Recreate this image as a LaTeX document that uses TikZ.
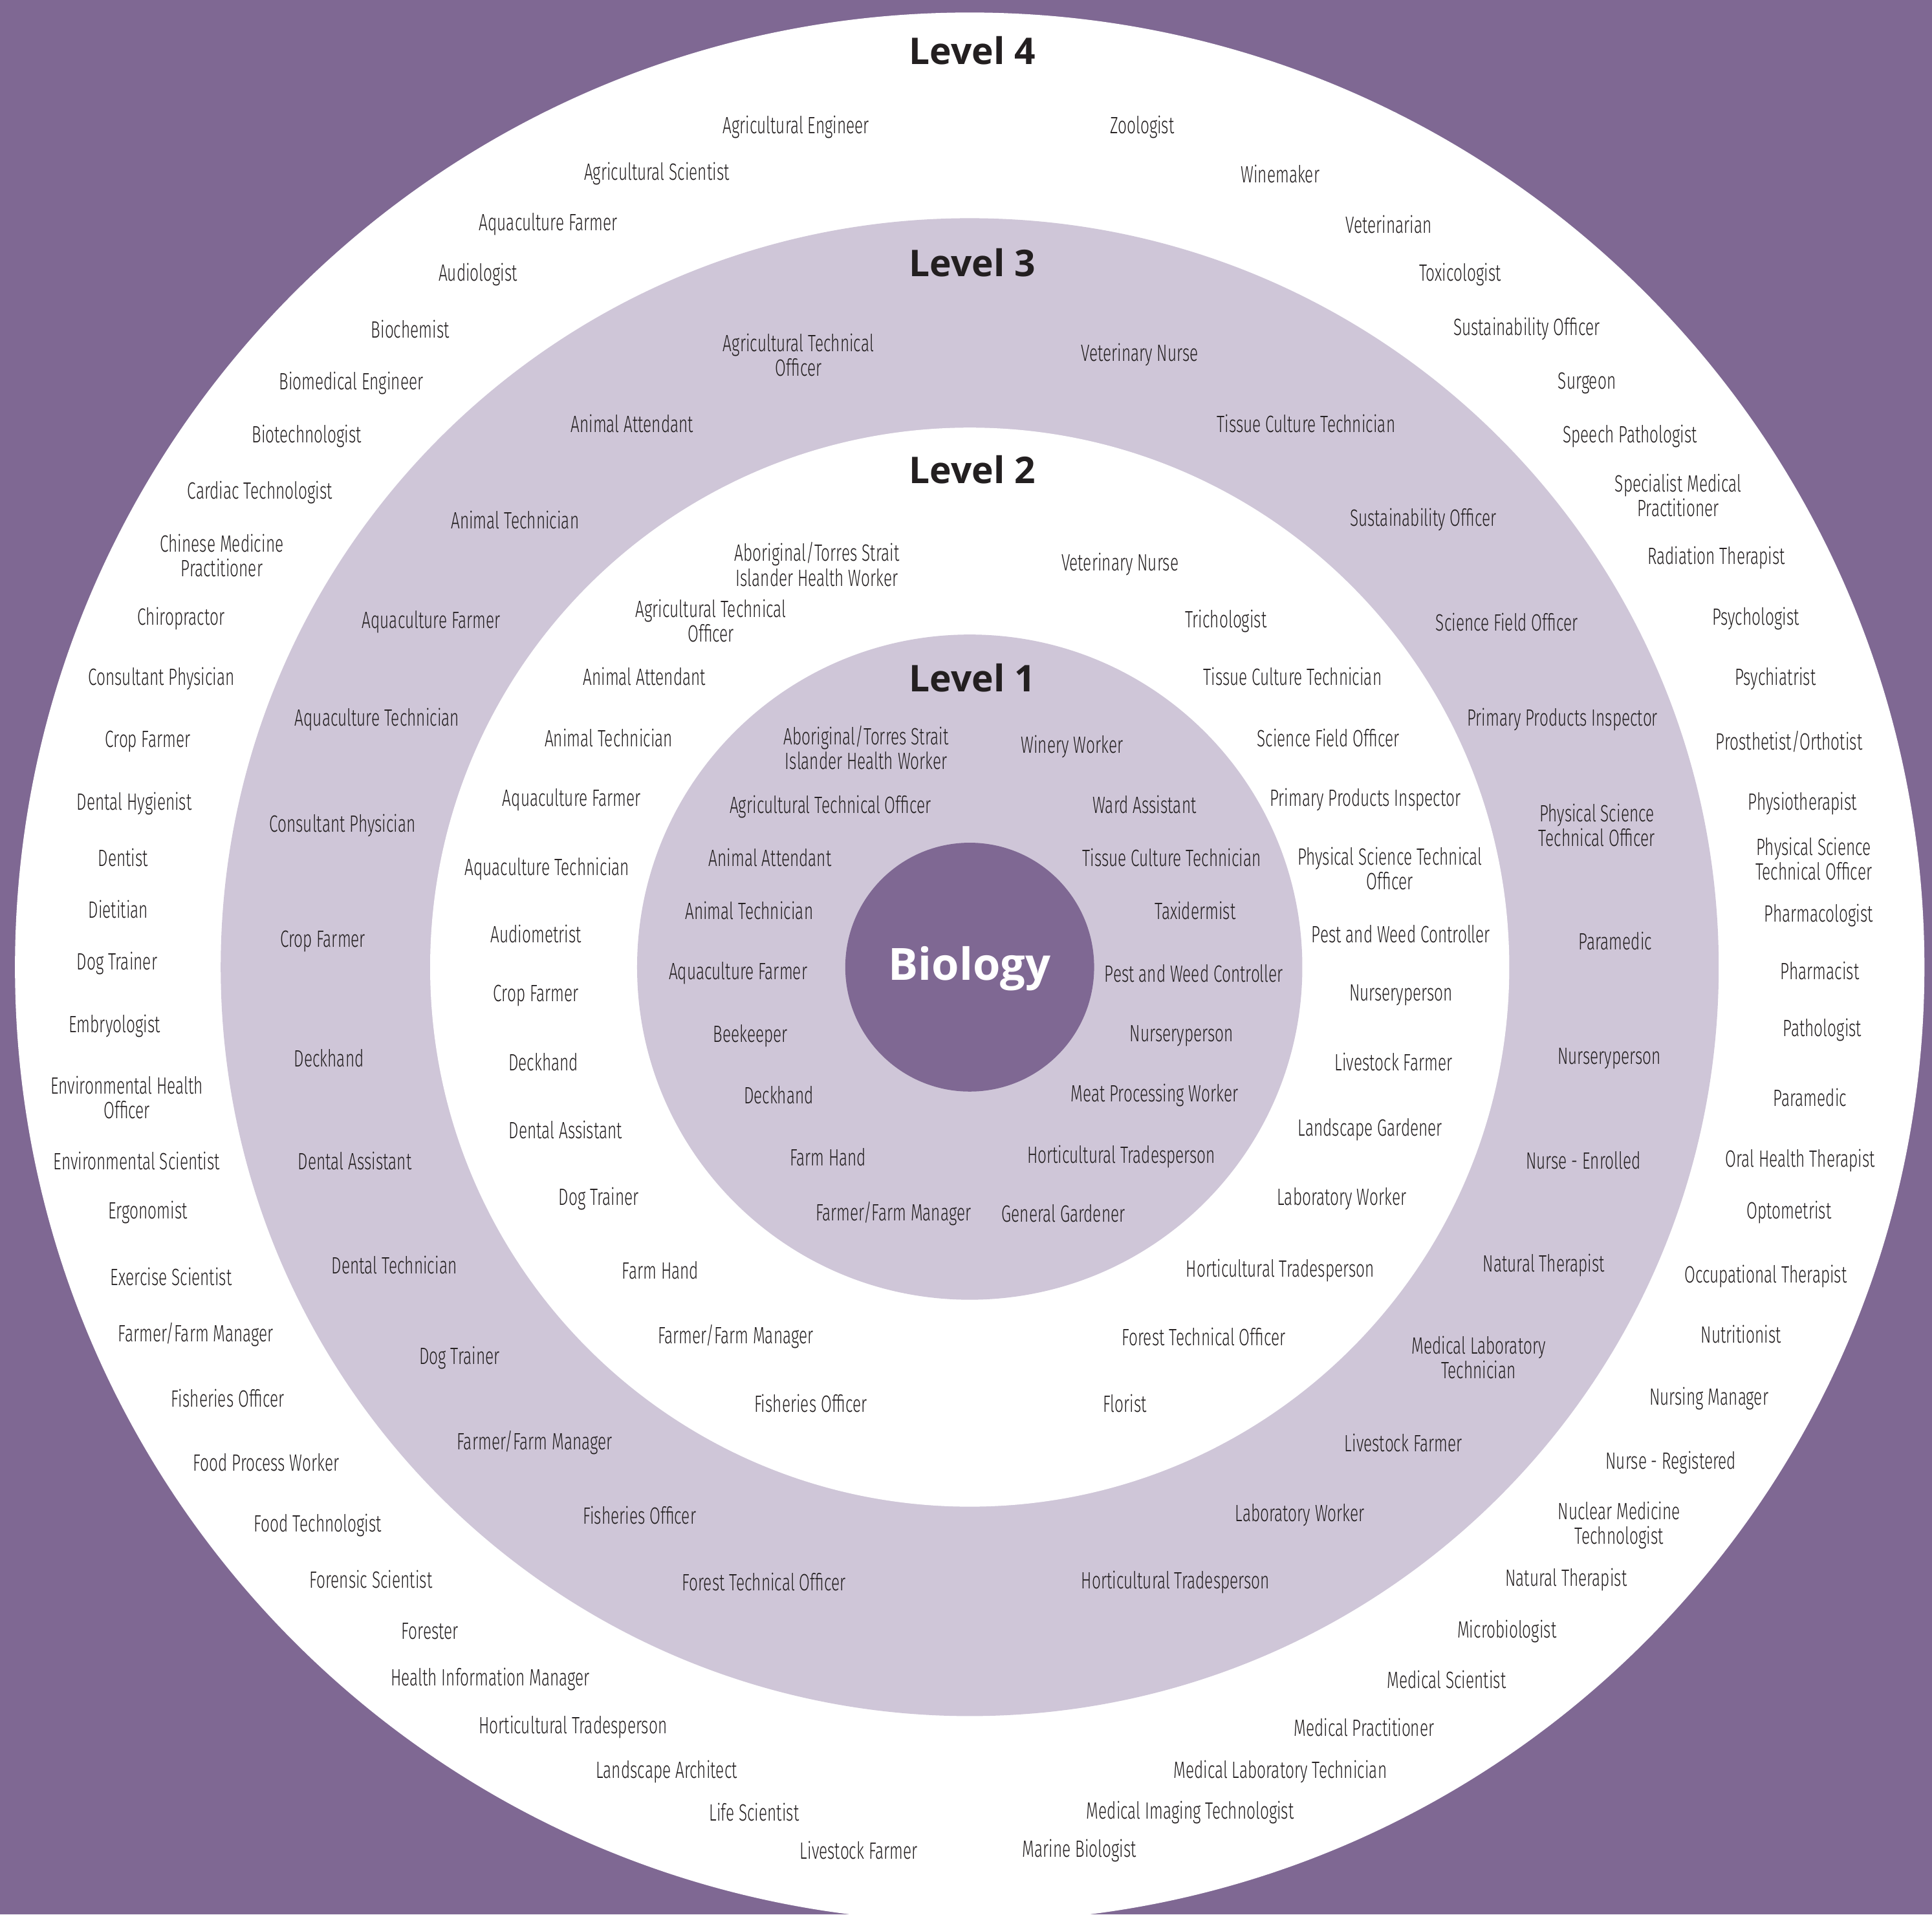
\documentclass[tikz,border=0pt]{standalone}
\usepackage{fontspec}
\setmainfont{Fira Sans}[UprightFont=* Light,FakeStretch=0.67]
\newfontfamily\headfont{Open Sans}
\usepackage{tikz}
\usetikzlibrary{positioning}
\usepackage{xcolor}
\definecolor{darkpurple}{HTML}{7F6893}
\definecolor{lightpurple}{HTML}{CFC6D8}
\definecolor{inktext}{HTML}{231F20}

\begin{document}
\begin{tikzpicture}[x=0.02cm,y=-0.02cm]
  \tikzstyle{job}=[align=center,inner sep=0pt,text=inktext,yshift=-0.04cm,
                   font=\fontsize{10.9}{11.4}\selectfont]
  \tikzstyle{level}=[inner sep=0pt,text=inktext,
                     font=\headfont\bfseries\fontsize{17}{20}\selectfont]
  \tikzstyle{subject}=[inner sep=0pt,text=white,
                       font=\headfont\bfseries\fontsize{20.5}{24}\selectfont]

  \fill[darkpurple] (0,0) rectangle (1568,1554);
  \useasboundingbox (0,0) rectangle (1568,1554);
  \clip (0,0) rectangle (1568,1554);
  \coordinate (O) at (787,785);
  \fill[white]       (O) circle (15.5cm);
  \fill[lightpurple] (O) circle (12.16cm);
  \fill[white]       (O) circle (8.76cm);
  \fill[lightpurple] (O) circle (5.4cm);
  \fill[darkpurple]  (O) circle (2.02cm);

  \node[subject] (bio) at (787,786) {Biology};

  % Level 4
  \node[level] (t4) at (789,41) {Level 4};
  \node[job] (d1)  at (646,101)  {Agricultural Engineer};
  \node[job] (d2)  at (533,139)  {Agricultural Scientist};
  \node[job] (d3)  at (445,180)  {Aquaculture Farmer};
  \node[job] (d4)  at (388,221)  {Audiologist};
  \node[job] (d5)  at (333,265)  {Biochemist};
  \node[job] (d6)  at (285,309)  {Biomedical Engineer};
  \node[job] (d7)  at (249,352)  {Biotechnologist};
  \node[job] (d8)  at (211,398)  {Cardiac Technologist};
  \node[job] (d9)  at (180,449)  {Chinese Medicine\\Practitioner};
  \node[job] (d10) at (147,500)  {Chiropractor};
  \node[job] (d11) at (131,549)  {Consultant Physician};
  \node[job] (d12) at (120,600)  {Crop Farmer};
  \node[job] (d13) at (109,650)  {Dental Hygienist};
  \node[job] (d14) at (100,694)  {Dentist};
  \node[job] (d15) at (96,736)   {Dietitian};
  \node[job] (d16) at (95,780)   {Dog Trainer};
  \node[job] (d17) at (93,831)   {Embryologist};
  \node[job] (d18) at (103,889)  {Environmental Health\\Officer};
  \node[job] (d19) at (111,940)  {Environmental Scientist};
  \node[job] (d20) at (120,982)  {Ergonomist};
  \node[job] (d21) at (139,1034) {Exercise Scientist};
  \node[job] (d22) at (159,1081) {Farmer/Farm Manager};
  \node[job] (d23) at (185,1133) {Fisheries Officer};
  \node[job] (d24) at (216,1185) {Food Process Worker};
  \node[job] (d25) at (258,1236) {Food Technologist};
  \node[job] (d26) at (301,1280) {Forensic Scientist};
  \node[job] (d27) at (349,1322) {Forester};
  \node[job] (d28) at (398,1361) {Health Information Manager};
  \node[job] (d29) at (465,1400) {Horticultural Tradesperson};
  \node[job] (d30) at (541,1436) {Landscape Architect};
  \node[job] (d31) at (612,1469) {Life Scientist};
  \node[job] (d32) at (697,1500) {Livestock Farmer};
  \node[job] (d33) at (927,101)  {Zoologist};
  \node[job] (d34) at (1039,139) {Winemaker};
  \node[job] (d35) at (1127,180) {Veterinarian};
  \node[job] (d36) at (1185,221) {Toxicologist};
  \node[job] (d37) at (1239,265) {Sustainability Officer};
  \node[job] (d38) at (1288,309) {Surgeon};
  \node[job] (d39) at (1323,352) {Speech Pathologist};
  \node[job] (d40) at (1362,400) {Specialist Medical\\Practitioner};
  \node[job] (d41) at (1393,451) {Radiation Therapist};
  \node[job] (d42) at (1425,500) {Psychologist};
  \node[job] (d43) at (1441,549) {Psychiatrist};
  \node[job] (d44) at (1452,600) {Prosthetist/Orthotist};
  \node[job] (d45) at (1463,650) {Physiotherapist};
  \node[job] (d46) at (1472,695) {Physical Science\\Technical Officer};
  \node[job] (d47) at (1476,741) {Pharmacologist};
  \node[job] (d48) at (1477,786) {Pharmacist};
  \node[job] (d49) at (1479,834) {Pathologist};
  \node[job] (d50) at (1469,889) {Paramedic};
  \node[job] (d51) at (1461,940) {Oral Health Therapist};
  \node[job] (d52) at (1452,982) {Optometrist};
  \node[job] (d53) at (1433,1034) {Occupational Therapist};
  \node[job] (d54) at (1413,1081) {Nutritionist};
  \node[job] (d55) at (1387,1133) {Nursing Manager};
  \node[job] (d56) at (1356,1185) {Nurse - Registered};
  \node[job] (d57) at (1314,1236) {Nuclear Medicine\\Technologist};
  \node[job] (d58) at (1271,1280) {Natural Therapist};
  \node[job] (d59) at (1223,1322) {Microbiologist};
  \node[job] (d60) at (1174,1361) {Medical Scientist};
  \node[job] (d61) at (1107,1400) {Medical Practitioner};
  \node[job] (d62) at (1039,1436) {Medical Laboratory Technician};
  \node[job] (d63) at (966,1469)  {Medical Imaging Technologist};
  \node[job] (d64) at (876,1500)  {Marine Biologist};

  % Level 3
  \node[level] (t3) at (789,213) {Level 3};
  \node[job] (c1)  at (648,286)  {Agricultural Technical\\Officer};
  \node[job] (c2)  at (513,342)  {Animal Attendant};
  \node[job] (c3)  at (418,420)  {Animal Technician};
  \node[job] (c4)  at (350,503)  {Aquaculture Farmer};
  \node[job] (c5)  at (306,582)  {Aquaculture Technician};
  \node[job] (c6)  at (278,668)  {Consultant Physician};
  \node[job] (c7)  at (262,762)  {Crop Farmer};
  \node[job] (c8)  at (267,857)  {Deckhand};
  \node[job] (c9)  at (288,940)  {Dental Assistant};
  \node[job] (c10) at (320,1025) {Dental Technician};
  \node[job] (c11) at (373,1100) {Dog Trainer};
  \node[job] (c12) at (434,1169) {Farmer/Farm Manager};
  \node[job] (c13) at (519,1228) {Fisheries Officer};
  \node[job] (c14) at (620,1282) {Forest Technical Officer};
  \node[job] (c15) at (925,286)  {Veterinary Nurse};
  \node[job] (c16) at (1060,342) {Tissue Culture Technician};
  \node[job] (c17) at (1155,420) {Sustainability Officer};
  \node[job] (c18) at (1223,503) {Science Field Officer};
  \node[job] (c19) at (1268,582) {Primary Products Inspector};
  \node[job] (c20) at (1296,668) {Physical Science\\Technical Officer};
  \node[job] (c21) at (1311,762) {Paramedic};
  \node[job] (c22) at (1306,857) {Nurseryperson};
  \node[job] (c23) at (1285,940) {Nurse - Enrolled};
  \node[job] (c24) at (1253,1025) {Natural Therapist};
  \node[job] (c25) at (1200,1100) {Medical Laboratory\\Technician};
  \node[job] (c26) at (1139,1169) {Livestock Farmer};
  \node[job] (c27) at (1055,1228) {Laboratory Worker};
  \node[job] (c28) at (954,1282)  {Horticultural Tradesperson};

  % Level 2
  \node[level] (t2) at (789,381) {Level 2};
  \node[job] (b1)  at (663,456)  {Aboriginal/Torres Strait\\Islander Health Worker};
  \node[job] (b2)  at (577,502)  {Agricultural Technical\\Officer};
  \node[job] (b3)  at (523,547)  {Animal Attendant};
  \node[job] (b4)  at (494,597)  {Animal Technician};
  \node[job] (b5)  at (464,647)  {Aquaculture Farmer};
  \node[job] (b6)  at (444,703)  {Aquaculture Technician};
  \node[job] (b7)  at (435,756)  {Audiometrist};
  \node[job] (b8)  at (435,806)  {Crop Farmer};
  \node[job] (b9)  at (441,860)  {Deckhand};
  \node[job] (b10) at (459,915)  {Dental Assistant};
  \node[job] (b11) at (486,971)  {Dog Trainer};
  \node[job] (b12) at (536,1029) {Farm Hand};
  \node[job] (b13) at (597,1083) {Farmer/Farm Manager};
  \node[job] (b14) at (658,1137) {Fisheries Officer};
  \node[job] (b15) at (909,456)  {Veterinary Nurse};
  \node[job] (b16) at (995,502)  {Trichologist};
  \node[job] (b17) at (1049,547) {Tissue Culture Technician};
  \node[job] (b18) at (1078,597) {Science Field Officer};
  \node[job] (b19) at (1108,647) {Primary Products Inspector};
  \node[job] (b20) at (1128,703) {Physical Science Technical\\Officer};
  \node[job] (b21) at (1137,756) {Pest and Weed Controller};
  \node[job] (b22) at (1137,806) {Nurseryperson};
  \node[job] (b23) at (1131,860) {Livestock Farmer};
  \node[job] (b24) at (1112,915) {Landscape Gardener};
  \node[job] (b25) at (1089,971) {Laboratory Worker};
  \node[job] (b26) at (1039,1029) {Horticultural Tradesperson};
  \node[job] (b27) at (977,1083) {Forest Technical Officer};
  \node[job] (b28) at (913,1137) {Florist};

  % Level 1
  \node[level] (t1) at (789,550) {Level 1};
  \node[job] (a1)  at (703,605) {Aboriginal/Torres Strait\\Islander Health Worker};
  \node[job] (a2)  at (674,653) {Agricultural Technical Officer};
  \node[job] (a3)  at (625,694) {Animal Attendant};
  \node[job] (a4)  at (608,737) {Animal Technician};
  \node[job] (a5)  at (599,788) {Aquaculture Farmer};
  \node[job] (a6)  at (609,839) {Beekeeper};
  \node[job] (a7)  at (632,887) {Deckhand};
  \node[job] (a8)  at (672,937) {Farm Hand};
  \node[job] (a9)  at (725,983) {Farmer/Farm Manager};
  \node[job] (a10) at (870,604) {Winery Worker};
  \node[job] (a11) at (929,651) {Ward Assistant};
  \node[job] (a12) at (951,694) {Tissue Culture Technician};
  \node[job] (a13) at (970,737) {Taxidermist};
  \node[job] (a14) at (969,788) {Pest and Weed Controller};
  \node[job] (a15) at (959,839) {Nurseryperson};
  \node[job] (a16) at (937,887) {Meat Processing Worker};
  \node[job] (a17) at (910,937) {Horticultural Tradesperson};
  \node[job] (a18) at (863,983) {General Gardener};
\end{tikzpicture}
\end{document}
